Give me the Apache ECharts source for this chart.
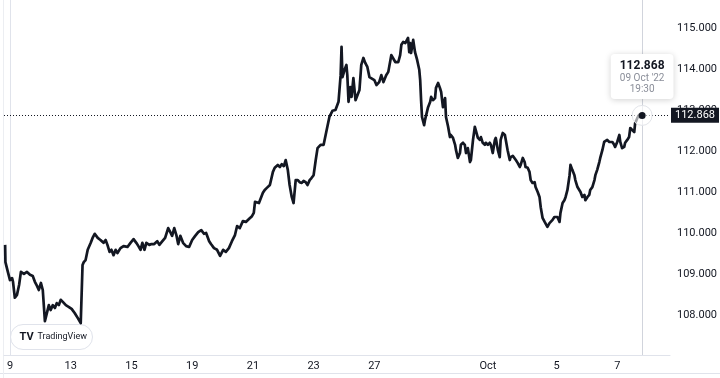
<!DOCTYPE html>
<html>
<head>
<meta charset="utf-8">
<script src="https://cdn.jsdelivr.net/npm/echarts@6/dist/echarts.min.js"></script>
<style>
    html, body { margin: 0; padding: 0; background: #fff; }
    #chart { width: 720px; height: 378px; }
</style>
</head>
<body>
<div id="chart"></div>
<script>
// x = trading days counted from Sep 9 (weekends skipped, like the TradingView time scale)
var days = [
    -0.16, -0.15, -0.07, 0.00, 0.07, 0.10, 0.16, 0.23, 0.30, 0.36, 0.46, 0.56, 0.66, 0.75, 0.82, 0.89, 0.95, 1.02, 1.08, 1.15,
    1.21, 1.28, 1.34, 1.41, 1.48, 1.54, 1.61, 1.67, 1.74, 1.84, 1.93, 2.03, 2.13, 2.23, 2.33, 2.36, 2.39, 2.43, 2.49, 2.56,
    2.66, 2.72, 2.79, 2.89, 2.98, 3.08, 3.15, 3.21, 3.28, 3.34, 3.41, 3.48, 3.54, 3.64, 3.74, 3.87, 3.97, 4.07, 4.16, 4.23,
    4.30, 4.36, 4.43, 4.49, 4.59, 4.66, 4.75, 4.85, 4.92, 5.02, 5.11, 5.21, 5.28, 5.34, 5.41, 5.48, 5.54, 5.61, 5.70, 5.80,
    5.90, 6.00, 6.10, 6.20, 6.30, 6.39, 6.46, 6.56, 6.62, 6.72, 6.82, 6.92, 7.02, 7.11, 7.21, 7.31, 7.41, 7.48, 7.57, 7.67,
    7.77, 7.87, 7.97, 8.03, 8.07, 8.13, 8.20, 8.26, 8.33, 8.39, 8.46, 8.56, 8.66, 8.72, 8.82, 8.89, 8.95, 9.02, 9.08, 9.15,
    9.21, 9.28, 9.34, 9.41, 9.48, 9.54, 9.61, 9.67, 9.74, 9.80, 9.87, 9.93, 10.00, 10.07, 10.13, 10.23, 10.33, 10.43, 10.52, 10.62,
    10.72, 10.82, 10.89, 10.92, 10.95, 11.02, 11.08, 11.11, 11.15, 11.21, 11.25, 11.31, 11.38, 11.44, 11.51, 11.57, 11.64, 11.70, 11.77, 11.84,
    11.90, 12.00, 12.07, 12.16, 12.23, 12.30, 12.36, 12.39, 12.46, 12.52, 12.56, 12.62, 12.69, 12.79, 12.85, 12.89, 12.95, 13.02, 13.05, 13.11,
    13.15, 13.18, 13.21, 13.28, 13.34, 13.41, 13.48, 13.51, 13.54, 13.57, 13.64, 13.67, 13.70, 13.77, 13.84, 13.87, 13.93, 14.00, 14.03, 14.10,
    14.16, 14.20, 14.26, 14.33, 14.36, 14.43, 14.49, 14.52, 14.59, 14.66, 14.69, 14.75, 14.82, 14.85, 14.92, 14.98, 15.02, 15.08, 15.15, 15.18,
    15.25, 15.31, 15.34, 15.41, 15.48, 15.51, 15.57, 15.64, 15.67, 15.74, 15.80, 15.84, 15.90, 15.97, 16.00, 16.07, 16.13, 16.16, 16.23, 16.30,
    16.33, 16.39, 16.46, 16.49, 16.56, 16.62, 16.66, 16.72, 16.79, 16.82, 16.89, 16.95, 16.98, 17.05, 17.11, 17.15, 17.21, 17.28, 17.31, 17.38,
    17.44, 17.48, 17.54, 17.61, 17.64, 17.70, 17.77, 17.80, 17.87, 17.93, 17.97, 18.03, 18.10, 18.13, 18.20, 18.26, 18.30, 18.36, 18.43, 18.46,
    18.52, 18.59, 18.62, 18.69, 18.75, 18.79, 18.85, 18.92, 18.95, 19.02, 19.08, 19.11, 19.18, 19.25, 19.28, 19.34, 19.41, 19.44, 19.51, 19.57,
    19.61, 19.67, 19.74, 19.77, 19.84, 19.90, 19.93, 20.00, 20.07, 20.10, 20.16, 20.23, 20.26, 20.33, 20.39, 20.43, 20.49, 20.56, 20.59, 20.66,
    20.72, 20.75, 20.82
];
var prices = [
    109.71, 109.29, 109.05, 108.85, 108.90, 108.81, 108.42, 108.49, 108.73, 109.05, 109.00, 109.05, 108.98, 108.95, 108.81, 108.71, 108.61, 108.78, 108.61, 107.85,
    107.83, 108.24, 108.12, 108.24, 108.17, 108.29, 108.24, 108.37, 108.32, 108.24, 108.20, 108.15, 108.05, 107.93, 107.80, 107.83, 109.22, 109.29, 109.34, 109.59,
    109.76, 109.88, 109.98, 109.88, 109.83, 109.76, 109.83, 109.71, 109.54, 109.59, 109.46, 109.59, 109.51, 109.63, 109.68, 109.66, 109.76, 109.85, 109.76, 109.68,
    109.59, 109.76, 109.59, 109.76, 109.71, 109.73, 109.73, 109.80, 109.71, 109.80, 109.88, 110.12, 110.02, 109.93, 110.12, 109.95, 109.73, 109.93, 109.76, 109.68,
    109.66, 109.83, 109.93, 110.02, 110.07, 109.98, 110.00, 109.80, 109.73, 109.63, 109.59, 109.44, 109.59, 109.54, 109.63, 109.80, 109.95, 110.17, 110.12, 110.29,
    110.27, 110.34, 110.41, 110.49, 110.76, 110.80, 110.73, 110.76, 110.98, 111.05, 111.10, 111.17, 111.49, 111.59, 111.66, 111.61, 111.68, 111.63, 111.78, 111.54,
    111.17, 110.88, 110.73, 111.29, 111.29, 111.24, 111.22, 111.27, 111.24, 111.17, 111.29, 111.34, 111.41, 111.78, 112.07, 112.15, 112.15, 112.51, 112.83, 112.98,
    113.00, 113.20, 113.85, 114.54, 113.80, 113.98, 114.10, 113.85, 113.20, 113.56, 113.32, 113.78, 113.24, 113.24, 113.49, 114.10, 114.27, 114.15, 114.05, 113.80,
    113.78, 113.73, 113.61, 113.68, 113.85, 113.68, 113.66, 113.85, 113.93, 113.90, 114.34, 114.34, 114.17, 114.17, 114.34, 114.59, 114.66, 114.63, 114.59, 114.76,
    114.41, 114.63, 114.39, 114.71, 114.41, 114.22, 113.98, 113.73, 113.24, 112.83, 112.63, 112.76, 112.76, 113.07, 113.20, 113.32, 113.24, 113.29, 113.54, 113.66,
    113.54, 113.44, 113.07, 113.29, 112.83, 112.59, 112.34, 112.39, 112.32, 112.15, 112.02, 111.83, 111.95, 112.15, 112.20, 112.15, 111.95, 112.07, 111.73, 111.78,
    112.27, 112.59, 112.51, 112.32, 112.27, 112.34, 112.20, 112.15, 112.20, 112.15, 112.20, 112.15, 111.95, 112.27, 112.32, 112.02, 111.85, 112.27, 112.44, 112.39,
    112.27, 112.02, 111.78, 111.85, 111.88, 111.90, 111.78, 111.71, 111.61, 111.66, 111.83, 111.73, 111.61, 111.59, 111.49, 111.29, 111.22, 111.24, 111.12, 111.00,
    110.88, 110.63, 110.37, 110.27, 110.24, 110.15, 110.24, 110.20, 110.32, 110.39, 110.37, 110.39, 110.27, 110.49, 110.73, 110.80, 110.88, 111.05, 111.41, 111.66,
    111.54, 111.41, 111.29, 111.12, 111.10, 111.00, 110.88, 110.93, 110.80, 110.88, 110.93, 111.05, 111.12, 111.29, 111.41, 111.54, 111.73, 111.83, 112.02, 112.22,
    112.22, 112.27, 112.22, 112.20, 112.22, 112.15, 112.10, 112.22, 112.39, 112.22, 112.07, 112.10, 112.20, 112.27, 112.34, 112.56, 112.59, 112.46, 112.68, 112.80,
    112.88, 112.83, 112.868
];

var tickDays = [0, 2, 4, 6, 8, 10, 12, 15.74, 18, 20];
var tickLabels = ['9', '13', '15', '19', '21', '23', '27', 'Oct', '5', '7'];
var priceTicks = [108, 109, 110, 111, 112, 113, 114, 115];

var lastDate = "09 Oct '22";
var lastTime = '19:30';

var ink = '#131722';
var border = '#e0e3eb';
var font = 'Roboto, "Liberation Sans", sans-serif';

var seriesData = days.map(function (d, i) { return [d, prices[i]]; });
var lastIdx = days.length - 1;
var lastPrice = prices[lastIdx];

var chart = echarts.init(document.getElementById('chart'));

chart.setOption({
    animation: false,
    backgroundColor: '#ffffff',
    grid: {left: 4, right: 47, top: 0, bottom: 23, show: false},
    xAxis: {
        type: 'value',
        min: -0.197,
        max: 21.738,
        splitLine: {show: false},
        axisTick: {show: false},
        axisLine: {show: true, lineStyle: {color: border, width: 1}},
        axisLabel: {
            customValues: tickDays,
            color: ink,
            fontFamily: font,
            fontSize: 11,
            margin: 6,
            formatter: function (v) {
                var k = tickDays.indexOf(v);
                return k >= 0 ? tickLabels[k] : '';
            }
        }
    },
    yAxis: {
        type: 'value',
        position: 'right',
        min: 107.024,
        max: 115.683,
        splitLine: {show: false},
        axisTick: {show: false},
        axisLine: {show: true, lineStyle: {color: border, width: 1}},
        axisLabel: {
            customValues: priceTicks,
            color: ink,
            fontFamily: font,
            fontSize: 11,
            margin: 7,
            align: 'left',
            formatter: function (v) { return v.toFixed(3); }
        }
    },
    series: [{
        type: 'line',
        data: seriesData,
        showSymbol: false,
        symbol: 'none',
        lineStyle: {color: ink, width: 2.7, join: 'round'},
        z: 3,
        markLine: {
            silent: true,
            symbol: 'none',
            animation: false,
            data: [
                {
                    yAxis: lastPrice,
                    lineStyle: {color: ink, type: [1, 2], width: 1},
                    label: {
                        show: true,
                        position: 'end',
                        distance: 1,
                        formatter: lastPrice.toFixed(3),
                        color: '#ffffff',
                        backgroundColor: ink,
                        fontFamily: font,
                        fontSize: 11,
                        padding: [2, 4, 2, 4]
                    }
                },
                {
                    xAxis: days[lastIdx],
                    lineStyle: {color: '#d1d4dc', type: 'solid', width: 1},
                    label: {show: false}
                }
            ]
        },
        markPoint: {
            silent: true,
            animation: false,
            data: [
                {
                    coord: [days[lastIdx], lastPrice],
                    symbol: 'circle',
                    symbolSize: 20,
                    itemStyle: {color: 'rgba(255,255,255,0.6)', borderColor: '#e3e5ea', borderWidth: 1},
                    label: {
                        show: true,
                        position: 'inside',
                        offset: [0, -39],
                        formatter: '{p|' + lastPrice.toFixed(3) + '}\n{d|' + lastDate + '}\n{d|' + lastTime + '}',
                        backgroundColor: '#ffffff',
                        borderRadius: 4,
                        shadowBlur: 6,
                        shadowColor: 'rgba(0,0,0,0.18)',
                        shadowOffsetY: 1,
                        padding: [5, 9, 4, 9],
                        align: 'center',
                        verticalAlign: 'middle',
                        rich: {
                            p: {color: ink, fontFamily: font, fontSize: 12, fontWeight: 'bold', lineHeight: 14, align: 'center'},
                            d: {color: '#8a8e99', fontFamily: font, fontSize: 10, lineHeight: 11, align: 'center'}
                        }
                    }
                },
                {
                    coord: [days[lastIdx], lastPrice],
                    symbol: 'circle',
                    symbolSize: 7,
                    itemStyle: {color: ink},
                    label: {show: false}
                }
            ]
        }
    }],
    graphic: [
        {type: 'line', shape: {x1: 0, y1: 373.5, x2: 720, y2: 373.5}, style: {stroke: border, lineWidth: 1}, silent: true},
        {type: 'line', shape: {x1: 3.5, y1: 0, x2: 3.5, y2: 378}, style: {stroke: '#eceef2', lineWidth: 1}, silent: true},
        {
            type: 'group',
            left: 10,
            top: 324,
            children: [
                {type: 'rect', shape: {x: 0, y: 0, width: 82, height: 25, r: 12.5}, style: {fill: '#ffffff', stroke: border, lineWidth: 1}},
                {type: 'text', x: 9, y: 7, style: {text: 'TV', fill: ink, font: 'bold 11px ' + font}},
                {type: 'text', x: 27, y: 8, style: {text: 'TradingView', fill: ink, font: '9px ' + font}}
            ]
        }
    ]
});
</script>
</body>
</html>
